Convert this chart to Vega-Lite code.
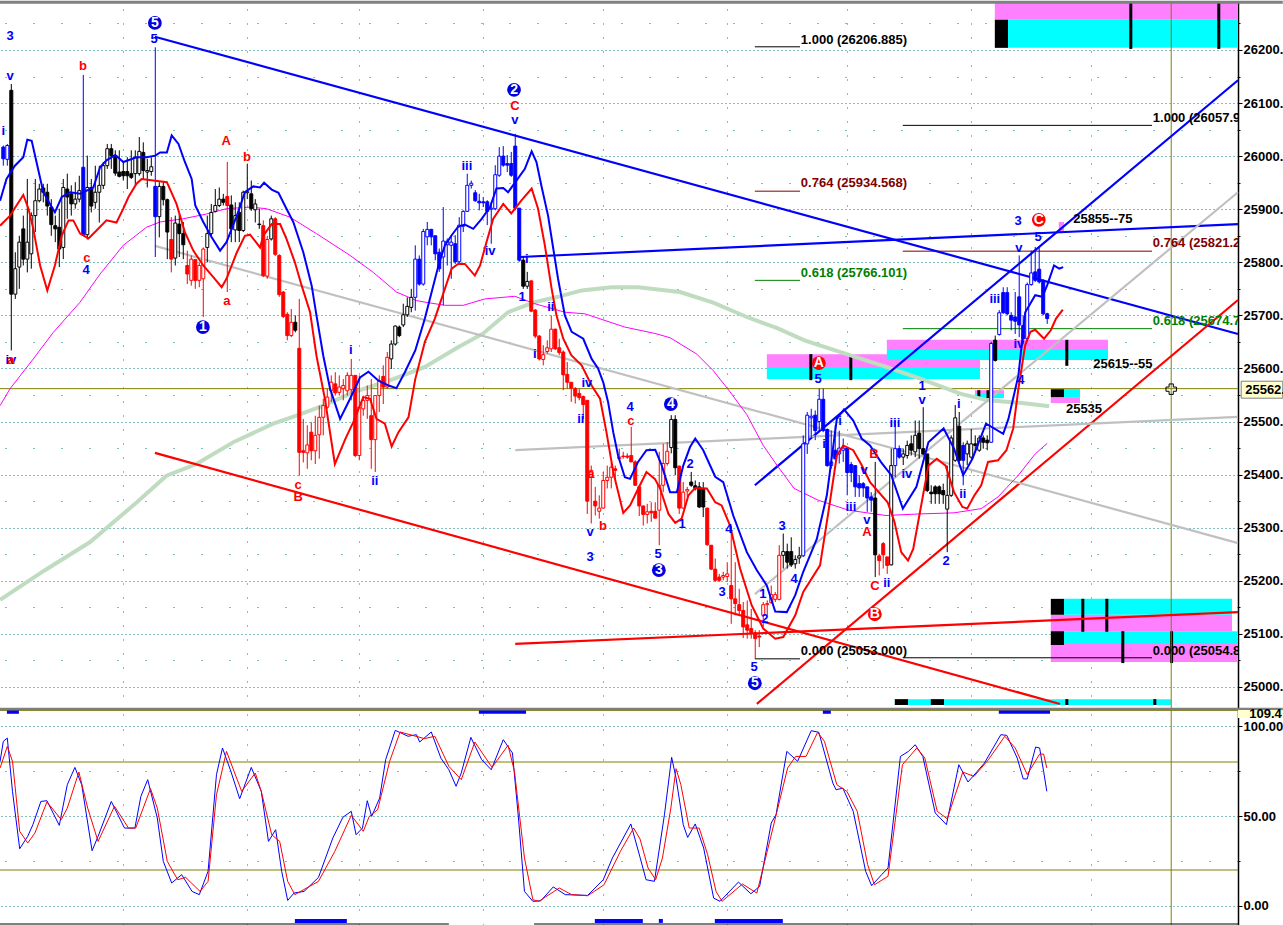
{
  "$schema": "https://vega.github.io/schema/vega-lite/v6.json",
  "background": "white",
  "padding": {"left": -4, "right": 0, "top": 0, "bottom": 0},
  "spacing": 0,
  "bounds": "flush",
  "config": {"view": {"stroke": null}, "font": "Liberation Sans"},
  "datasets": {
    "candles": [
      {"t":0,"o":26017,"h":26020,"l":25982,"c":25995,"g":"blue"},{"t":1,"o":25994,"h":26023,"l":25982,"c":26020,"g":"blue"},{"t":2,"o":26124,"h":26136,"l":25634,"c":25740,"g":"black"},{"t":3,"o":25740,"h":25819,"l":25731,"c":25788,"g":"black"},{"t":4,"o":25791,"h":25850,"l":25750,"c":25838,"g":"black"},{"t":5,"o":25863,"h":25888,"l":25794,"c":25806,"g":"black"},{"t":6,"o":25806,"h":25957,"l":25781,"c":25838,"g":"black"},{"t":7,"o":25816,"h":25894,"l":25788,"c":25888,"g":"black"},{"t":8,"o":25888,"h":25957,"l":25857,"c":25916,"g":"black"},{"t":9,"o":25916,"h":25948,"l":25913,"c":25938,"g":"black"},
      {"t":10,"o":25940,"h":25948,"l":25913,"c":25932,"g":"black"},{"t":11,"o":25932,"h":25948,"l":25888,"c":25906,"g":"black"},{"t":12,"o":25904,"h":25919,"l":25850,"c":25871,"g":"black"},{"t":13,"o":25869,"h":25888,"l":25838,"c":25863,"g":"black"},{"t":14,"o":25866,"h":25901,"l":25791,"c":25825,"g":"black"},{"t":15,"o":25828,"h":25957,"l":25806,"c":25941,"g":"black"},{"t":16,"o":25938,"h":25967,"l":25882,"c":25923,"g":"black"},{"t":17,"o":25929,"h":25945,"l":25888,"c":25910,"g":"black"},{"t":18,"o":25910,"h":25951,"l":25901,"c":25919,"g":"black"},{"t":19,"o":25919,"h":25963,"l":25913,"c":25935,"g":"black"},
      {"t":20,"o":25979,"h":26153,"l":25850,"c":25852,"g":"blue"},{"t":21,"o":25852,"h":26001,"l":25843,"c":25941,"g":"black"},{"t":22,"o":25941,"h":25957,"l":25894,"c":25906,"g":"black"},{"t":23,"o":25913,"h":25982,"l":25901,"c":25932,"g":"black"},{"t":24,"o":25932,"h":25982,"l":25875,"c":25945,"g":"black"},{"t":25,"o":25945,"h":25989,"l":25938,"c":25982,"g":"black"},{"t":26,"o":25982,"h":26023,"l":25976,"c":26014,"g":"black"},{"t":27,"o":26014,"h":26023,"l":25976,"c":26001,"g":"black"},{"t":28,"o":26001,"h":26011,"l":25963,"c":25968,"g":"black"},{"t":29,"o":25970,"h":26011,"l":25960,"c":25962,"g":"black"},
      {"t":30,"o":25971,"h":25989,"l":25954,"c":25963,"g":"black"},{"t":31,"o":25971,"h":25998,"l":25938,"c":25963,"g":"black"},{"t":32,"o":25967,"h":26011,"l":25957,"c":25960,"g":"black"},{"t":33,"o":25967,"h":26011,"l":25945,"c":25998,"g":"black"},{"t":34,"o":25967,"h":26036,"l":25963,"c":26009,"g":"black"},{"t":35,"o":26007,"h":26026,"l":25957,"c":25973,"g":"black"},{"t":36,"o":25970,"h":25995,"l":25941,"c":25973,"g":"black"},{"t":37,"o":25971,"h":25998,"l":25963,"c":25980,"g":"black"},{"t":38,"o":25943,"h":26205,"l":25810,"c":25886,"g":"blue"},{"t":39,"o":25886,"h":25951,"l":25847,"c":25943,"g":"black"},
      {"t":40,"o":25943,"h":25951,"l":25907,"c":25918,"g":"black"},{"t":41,"o":25918,"h":25920,"l":25806,"c":25857,"g":"black"},{"t":42,"o":25843,"h":25885,"l":25781,"c":25806,"g":"red"},{"t":43,"o":25808,"h":25888,"l":25794,"c":25874,"g":"black"},{"t":44,"o":25872,"h":25891,"l":25810,"c":25854,"g":"black"},{"t":45,"o":25854,"h":25876,"l":25806,"c":25833,"g":"black"},{"t":46,"o":25794,"h":25822,"l":25759,"c":25778,"g":"red"},{"t":47,"o":25766,"h":25813,"l":25756,"c":25806,"g":"red"},{"t":48,"o":25805,"h":25806,"l":25750,"c":25766,"g":"red"},{"t":49,"o":25766,"h":25800,"l":25753,"c":25794,"g":"red"},
      {"t":50,"o":25769,"h":25828,"l":25697,"c":25825,"g":"red"},{"t":51,"o":25828,"h":25888,"l":25800,"c":25854,"g":"black"},{"t":52,"o":25854,"h":25910,"l":25848,"c":25894,"g":"black"},{"t":53,"o":25896,"h":25938,"l":25894,"c":25907,"g":"black"},{"t":54,"o":25907,"h":25941,"l":25904,"c":25919,"g":"black"},{"t":55,"o":25919,"h":25929,"l":25907,"c":25913,"g":"black"},{"t":56,"o":25924,"h":25989,"l":25744,"c":25907,"g":"red"},{"t":57,"o":25908,"h":25926,"l":25838,"c":25863,"g":"black"},{"t":58,"o":25861,"h":25913,"l":25838,"c":25888,"g":"black"},{"t":59,"o":25894,"h":25913,"l":25838,"c":25860,"g":"black"},
      {"t":60,"o":25860,"h":25935,"l":25857,"c":25932,"g":"black"},{"t":61,"o":25931,"h":25985,"l":25919,"c":25933,"g":"black"},{"t":62,"o":25929,"h":25954,"l":25897,"c":25901,"g":"black"},{"t":63,"o":25899,"h":25919,"l":25875,"c":25910,"g":"black"},{"t":64,"o":25872,"h":25901,"l":25863,"c":25871,"g":"black"},{"t":65,"o":25869,"h":25879,"l":25772,"c":25775,"g":"red"},{"t":66,"o":25774,"h":25850,"l":25769,"c":25843,"g":"red"},{"t":67,"o":25844,"h":25888,"l":25841,"c":25882,"g":"black"},{"t":68,"o":25882,"h":25885,"l":25812,"c":25815,"g":"red"},{"t":69,"o":25813,"h":25815,"l":25735,"c":25739,"g":"red"},
      {"t":70,"o":25744,"h":25746,"l":25695,"c":25698,"g":"red"},{"t":71,"o":25702,"h":25706,"l":25653,"c":25662,"g":"red"},{"t":72,"o":25662,"h":25712,"l":25659,"c":25687,"g":"red"},{"t":73,"o":25687,"h":25700,"l":25668,"c":25672,"g":"black"},{"t":74,"o":25638,"h":25731,"l":25398,"c":25442,"g":"red"},{"t":75,"o":25445,"h":25505,"l":25423,"c":25442,"g":"red"},{"t":76,"o":25441,"h":25493,"l":25411,"c":25456,"g":"red"},{"t":77,"o":25480,"h":25499,"l":25427,"c":25445,"g":"red"},{"t":78,"o":25445,"h":25511,"l":25420,"c":25474,"g":"red"},{"t":79,"o":25475,"h":25530,"l":25430,"c":25508,"g":"red"},
      {"t":80,"o":25508,"h":25543,"l":25474,"c":25530,"g":"red"},{"t":81,"o":25527,"h":25562,"l":25524,"c":25546,"g":"red"},{"t":82,"o":25558,"h":25587,"l":25537,"c":25574,"g":"red"},{"t":83,"o":25571,"h":25593,"l":25549,"c":25554,"g":"red"},{"t":84,"o":25555,"h":25587,"l":25549,"c":25565,"g":"red"},{"t":85,"o":25562,"h":25580,"l":25540,"c":25568,"g":"red"},{"t":86,"o":25558,"h":25593,"l":25549,"c":25587,"g":"red"},{"t":87,"o":25560,"h":25618,"l":25540,"c":25587,"g":"red"},{"t":88,"o":25587,"h":25587,"l":25433,"c":25436,"g":"red"},{"t":89,"o":25436,"h":25587,"l":25427,"c":25527,"g":"red"},
      {"t":90,"o":25524,"h":25549,"l":25511,"c":25540,"g":"red"},{"t":91,"o":25540,"h":25568,"l":25505,"c":25549,"g":"red"},{"t":92,"o":25511,"h":25580,"l":25411,"c":25466,"g":"red"},{"t":93,"o":25466,"h":25549,"l":25405,"c":25549,"g":"red"},{"t":94,"o":25549,"h":25587,"l":25518,"c":25577,"g":"red"},{"t":95,"o":25585,"h":25606,"l":25533,"c":25565,"g":"red"},{"t":96,"o":25565,"h":25631,"l":25562,"c":25621,"g":"red"},{"t":97,"o":25618,"h":25653,"l":25599,"c":25646,"g":"black"},{"t":98,"o":25646,"h":25681,"l":25643,"c":25680,"g":"black"},{"t":99,"o":25678,"h":25681,"l":25659,"c":25662,"g":"black"},
      {"t":100,"o":25682,"h":25722,"l":25678,"c":25701,"g":"black"},{"t":101,"o":25701,"h":25734,"l":25697,"c":25717,"g":"black"},{"t":102,"o":25715,"h":25750,"l":25706,"c":25734,"g":"black"},{"t":103,"o":25734,"h":25832,"l":25709,"c":25806,"g":"blue"},{"t":104,"o":25806,"h":25813,"l":25756,"c":25759,"g":"blue"},{"t":105,"o":25759,"h":25863,"l":25756,"c":25858,"g":"blue"},{"t":106,"o":25848,"h":25876,"l":25832,"c":25862,"g":"blue"},{"t":107,"o":25862,"h":25863,"l":25832,"c":25848,"g":"blue"},{"t":108,"o":25850,"h":25850,"l":25804,"c":25816,"g":"blue"},{"t":109,"o":25819,"h":25826,"l":25782,"c":25788,"g":"blue"},
      {"t":110,"o":25810,"h":25904,"l":25719,"c":25840,"g":"blue"},{"t":111,"o":25833,"h":25845,"l":25794,"c":25840,"g":"blue"},{"t":112,"o":25832,"h":25851,"l":25769,"c":25838,"g":"blue"},{"t":113,"o":25835,"h":25851,"l":25797,"c":25801,"g":"blue"},{"t":114,"o":25801,"h":25885,"l":25797,"c":25870,"g":"blue"},{"t":115,"o":25868,"h":25898,"l":25857,"c":25896,"g":"blue"},{"t":116,"o":25896,"h":25967,"l":25895,"c":25945,"g":"blue"},{"t":117,"o":25945,"h":25954,"l":25939,"c":25949,"g":"blue"},{"t":118,"o":25931,"h":25936,"l":25914,"c":25916,"g":"blue"},{"t":119,"o":25915,"h":25929,"l":25898,"c":25912,"g":"blue"},
      {"t":120,"o":25914,"h":25923,"l":25904,"c":25912,"g":"blue"},{"t":121,"o":25914,"h":25917,"l":25870,"c":25896,"g":"blue"},{"t":122,"o":25900,"h":25914,"l":25835,"c":25902,"g":"blue"},{"t":123,"o":25901,"h":25983,"l":25898,"c":25965,"g":"blue"},{"t":124,"o":25964,"h":26017,"l":25961,"c":26000,"g":"blue"},{"t":125,"o":26000,"h":26019,"l":25980,"c":25983,"g":"blue"},{"t":126,"o":25986,"h":26002,"l":25970,"c":25983,"g":"blue"},{"t":127,"o":25986,"h":26008,"l":25961,"c":25964,"g":"blue"},{"t":128,"o":26019,"h":26042,"l":25898,"c":25902,"g":"blue"},{"t":129,"o":25902,"h":25902,"l":25801,"c":25804,"g":"blue"},
      {"t":130,"o":25804,"h":25810,"l":25750,"c":25755,"g":"black"},{"t":131,"o":25755,"h":25782,"l":25750,"c":25764,"g":"black"},{"t":132,"o":25765,"h":25766,"l":25706,"c":25708,"g":"red"},{"t":133,"o":25710,"h":25712,"l":25657,"c":25661,"g":"red"},{"t":134,"o":25661,"h":25663,"l":25615,"c":25618,"g":"red"},{"t":135,"o":25617,"h":25644,"l":25606,"c":25626,"g":"red"},{"t":136,"o":25632,"h":25653,"l":25628,"c":25639,"g":"red"},{"t":137,"o":25637,"h":25700,"l":25631,"c":25674,"g":"red"},{"t":138,"o":25674,"h":25675,"l":25635,"c":25637,"g":"red"},{"t":139,"o":25639,"h":25656,"l":25625,"c":25630,"g":"red"},
      {"t":140,"o":25631,"h":25634,"l":25559,"c":25588,"g":"red"},{"t":141,"o":25589,"h":25612,"l":25562,"c":25574,"g":"red"},{"t":142,"o":25574,"h":25574,"l":25537,"c":25563,"g":"red"},{"t":143,"o":25562,"h":25565,"l":25534,"c":25548,"g":"red"},{"t":144,"o":25553,"h":25562,"l":25540,"c":25545,"g":"red"},{"t":145,"o":25547,"h":25549,"l":25505,"c":25532,"g":"red"},{"t":146,"o":25540,"h":25540,"l":25326,"c":25350,"g":"red"},{"t":147,"o":25395,"h":25417,"l":25308,"c":25408,"g":"red"},{"t":148,"o":25350,"h":25377,"l":25323,"c":25341,"g":"red"},{"t":149,"o":25331,"h":25361,"l":25317,"c":25337,"g":"red"},
      {"t":150,"o":25337,"h":25405,"l":25336,"c":25389,"g":"red"},{"t":151,"o":25389,"h":25417,"l":25374,"c":25395,"g":"red"},{"t":152,"o":25395,"h":25421,"l":25374,"c":25414,"g":"red"},{"t":153,"o":25411,"h":25417,"l":25392,"c":25408,"g":"red"},{"t":154,"o":25430,"h":25449,"l":25427,"c":25433,"g":"red"},{"t":155,"o":25435,"h":25443,"l":25430,"c":25434,"g":"red"},{"t":156,"o":25435,"h":25440,"l":25430,"c":25433,"g":"red"},{"t":157,"o":25436,"h":25490,"l":25424,"c":25424,"g":"red"},{"t":158,"o":25424,"h":25427,"l":25379,"c":25380,"g":"red"},{"t":159,"o":25377,"h":25380,"l":25322,"c":25341,"g":"red"},
      {"t":160,"o":25341,"h":25341,"l":25304,"c":25325,"g":"red"},{"t":161,"o":25325,"h":25345,"l":25308,"c":25330,"g":"red"},{"t":162,"o":25331,"h":25348,"l":25311,"c":25328,"g":"red"},{"t":163,"o":25331,"h":25348,"l":25318,"c":25318,"g":"red"},{"t":164,"o":25333,"h":25443,"l":25267,"c":25380,"g":"red"},{"t":165,"o":25380,"h":25458,"l":25367,"c":25421,"g":"red"},{"t":166,"o":25421,"h":25461,"l":25417,"c":25444,"g":"red"},{"t":167,"o":25451,"h":25512,"l":25440,"c":25504,"g":"black"},{"t":168,"o":25504,"h":25512,"l":25399,"c":25413,"g":"black"},{"t":169,"o":25416,"h":25417,"l":25326,"c":25337,"g":"red"},
      {"t":170,"o":25337,"h":25386,"l":25336,"c":25367,"g":"red"},{"t":171,"o":25369,"h":25377,"l":25358,"c":25372,"g":"red"},{"t":172,"o":25386,"h":25405,"l":25377,"c":25380,"g":"black"},{"t":173,"o":25379,"h":25389,"l":25370,"c":25374,"g":"black"},{"t":174,"o":25377,"h":25386,"l":25337,"c":25339,"g":"black"},{"t":175,"o":25374,"h":25386,"l":25320,"c":25339,"g":"black"},{"t":176,"o":25337,"h":25337,"l":25266,"c":25268,"g":"red"},{"t":177,"o":25267,"h":25267,"l":25220,"c":25222,"g":"red"},{"t":178,"o":25222,"h":25242,"l":25198,"c":25201,"g":"red"},{"t":179,"o":25207,"h":25213,"l":25198,"c":25201,"g":"red"},
      {"t":180,"o":25207,"h":25217,"l":25201,"c":25210,"g":"red"},{"t":181,"o":25208,"h":25235,"l":25198,"c":25213,"g":"red"},{"t":182,"o":25191,"h":25304,"l":25119,"c":25166,"g":"red"},{"t":183,"o":25166,"h":25235,"l":25135,"c":25157,"g":"red"},{"t":184,"o":25155,"h":25185,"l":25135,"c":25144,"g":"red"},{"t":185,"o":25144,"h":25160,"l":25092,"c":25113,"g":"red"},{"t":186,"o":25117,"h":25163,"l":25091,"c":25107,"g":"red"},{"t":187,"o":25110,"h":25147,"l":25091,"c":25102,"g":"red"},{"t":188,"o":25102,"h":25107,"l":25053,"c":25091,"g":"red"},{"t":189,"o":25096,"h":25107,"l":25075,"c":25094,"g":"red"},
      {"t":190,"o":25135,"h":25160,"l":25113,"c":25155,"g":"red"},{"t":191,"o":25155,"h":25163,"l":25135,"c":25157,"g":"red"},{"t":192,"o":25159,"h":25191,"l":25157,"c":25174,"g":"red"},{"t":193,"o":25165,"h":25179,"l":25160,"c":25174,"g":"red"},{"t":194,"o":25165,"h":25267,"l":25163,"c":25248,"g":"red"},{"t":195,"o":25248,"h":25289,"l":25223,"c":25255,"g":"black"},{"t":196,"o":25255,"h":25270,"l":25223,"c":25235,"g":"black"},{"t":197,"o":25255,"h":25282,"l":25226,"c":25230,"g":"black"},{"t":198,"o":25232,"h":25248,"l":25223,"c":25240,"g":"black"},{"t":199,"o":25243,"h":25264,"l":25232,"c":25247,"g":"black"},
      {"t":200,"o":25247,"h":25474,"l":25245,"c":25458,"g":"blue"},{"t":201,"o":25458,"h":25518,"l":25439,"c":25512,"g":"blue"},{"t":202,"o":25507,"h":25524,"l":25468,"c":25510,"g":"blue"},{"t":203,"o":25512,"h":25521,"l":25465,"c":25483,"g":"blue"},{"t":204,"o":25500,"h":25562,"l":25483,"c":25542,"g":"blue"},{"t":205,"o":25542,"h":25562,"l":25480,"c":25483,"g":"blue"},{"t":206,"o":25485,"h":25487,"l":25415,"c":25417,"g":"blue"},{"t":207,"o":25417,"h":25483,"l":25411,"c":25424,"g":"blue"},{"t":208,"o":25446,"h":25493,"l":25427,"c":25430,"g":"blue"},{"t":209,"o":25439,"h":25483,"l":25421,"c":25450,"g":"blue"},
      {"t":210,"o":25446,"h":25468,"l":25424,"c":25450,"g":"blue"},{"t":211,"o":25450,"h":25452,"l":25361,"c":25404,"g":"blue"},{"t":212,"o":25419,"h":25424,"l":25386,"c":25404,"g":"blue"},{"t":213,"o":25417,"h":25417,"l":25358,"c":25377,"g":"blue"},{"t":214,"o":25383,"h":25399,"l":25358,"c":25375,"g":"blue"},{"t":215,"o":25383,"h":25386,"l":25358,"c":25375,"g":"blue"},{"t":216,"o":25377,"h":25377,"l":25330,"c":25356,"g":"blue"},{"t":217,"o":25358,"h":25367,"l":25330,"c":25352,"g":"blue"},{"t":218,"o":25356,"h":25424,"l":25207,"c":25249,"g":"black"},{"t":219,"o":25247,"h":25251,"l":25210,"c":25238,"g":"red"},
      {"t":220,"o":25270,"h":25273,"l":25223,"c":25249,"g":"red"},{"t":221,"o":25245,"h":25245,"l":25213,"c":25229,"g":"red"},{"t":222,"o":25230,"h":25449,"l":25229,"c":25417,"g":"black"},{"t":223,"o":25417,"h":25502,"l":25395,"c":25449,"g":"blue"},{"t":224,"o":25449,"h":25455,"l":25430,"c":25433,"g":"blue"},{"t":225,"o":25433,"h":25449,"l":25418,"c":25439,"g":"black"},{"t":226,"o":25436,"h":25464,"l":25430,"c":25455,"g":"black"},{"t":227,"o":25458,"h":25474,"l":25436,"c":25446,"g":"black"},{"t":228,"o":25443,"h":25502,"l":25433,"c":25474,"g":"black"},{"t":229,"o":25478,"h":25502,"l":25430,"c":25449,"g":"black"},
      {"t":230,"o":25449,"h":25527,"l":25436,"c":25439,"g":"black"},{"t":231,"o":25439,"h":25439,"l":25367,"c":25370,"g":"black"},{"t":232,"o":25367,"h":25380,"l":25345,"c":25364,"g":"black"},{"t":233,"o":25377,"h":25380,"l":25345,"c":25364,"g":"black"},{"t":234,"o":25377,"h":25380,"l":25345,"c":25364,"g":"black"},{"t":235,"o":25370,"h":25383,"l":25345,"c":25362,"g":"black"},{"t":236,"o":25335,"h":25417,"l":25254,"c":25361,"g":"black"},{"t":237,"o":25361,"h":25474,"l":25358,"c":25469,"g":"black"},{"t":238,"o":25427,"h":25531,"l":25424,"c":25507,"g":"black"},{"t":239,"o":25491,"h":25518,"l":25421,"c":25427,"g":"black"},
      {"t":240,"o":25455,"h":25461,"l":25380,"c":25427,"g":"blue"},{"t":241,"o":25439,"h":25464,"l":25418,"c":25458,"g":"black"},{"t":242,"o":25433,"h":25486,"l":25430,"c":25458,"g":"black"},{"t":243,"o":25458,"h":25474,"l":25443,"c":25455,"g":"black"},{"t":244,"o":25446,"h":25474,"l":25443,"c":25469,"g":"black"},{"t":245,"o":25469,"h":25474,"l":25449,"c":25461,"g":"black"},{"t":246,"o":25465,"h":25474,"l":25446,"c":25460,"g":"black"},{"t":247,"o":25461,"h":25650,"l":25460,"c":25647,"g":"blue"},{"t":248,"o":25653,"h":25662,"l":25613,"c":25615,"g":"black"},{"t":249,"o":25664,"h":25710,"l":25662,"c":25705,"g":"blue"},
      {"t":250,"o":25743,"h":25753,"l":25703,"c":25705,"g":"blue"},{"t":251,"o":25743,"h":25753,"l":25700,"c":25703,"g":"blue"},{"t":252,"o":25700,"h":25706,"l":25672,"c":25691,"g":"blue"},{"t":253,"o":25697,"h":25744,"l":25665,"c":25689,"g":"blue"},{"t":254,"o":25735,"h":25813,"l":25659,"c":25682,"g":"blue"},{"t":255,"o":25681,"h":25700,"l":25647,"c":25656,"g":"blue"},{"t":256,"o":25656,"h":25762,"l":25653,"c":25758,"g":"blue"},{"t":257,"o":25758,"h":25822,"l":25756,"c":25780,"g":"blue"},{"t":258,"o":25782,"h":25829,"l":25763,"c":25766,"g":"blue"},{"t":259,"o":25787,"h":25829,"l":25760,"c":25763,"g":"blue"},
      {"t":260,"o":25766,"h":25768,"l":25700,"c":25703,"g":"blue"},{"t":261,"o":25703,"h":25705,"l":25684,"c":25694,"g":"blue"}
    ],
    "maBlue": [
      {"t":-0.8,"p":25916},{"t":0.8,"p":25957},{"t":2.9,"p":25982},{"t":5,"p":25998},{"t":6,"p":26031},{"t":7.1,"p":26029},{"t":8.3,"p":25989},{"t":10,"p":25932},{"t":12.9,"p":25894},{"t":14.6,"p":25923},{"t":16.7,"p":25932},{"t":19.2,"p":25929},{"t":22.5,"p":25941},{"t":24.2,"p":25979},{"t":25.8,"p":25992},{"t":28,"p":26002},{"t":30,"p":25989},{"t":33.3,"p":25998},{"t":35.8,"p":25998},{"t":38,"p":26001},{"t":39.2,"p":26007},{"t":40.9,"p":26007},{"t":42.1,"p":26039},{"t":43.8,"p":26023},{"t":45.4,"p":25989},{"t":47.1,"p":25957},{"t":48,"p":25907},{"t":50,"p":25876},{"t":52.1,"p":25847},{"t":54.2,"p":25822},{"t":55.8,"p":25838},{"t":58.4,"p":25888},{"t":60.4,"p":25932},{"t":62.5,"p":25943},{"t":64.2,"p":25941},{"t":65.2,"p":25950},{"t":67.1,"p":25937},{"t":68.8,"p":25931},{"t":70.8,"p":25901},{"t":72.5,"p":25876},{"t":75,"p":25819},{"t":77.1,"p":25756},{"t":78.3,"p":25700},{"t":80,"p":25624},{"t":81.7,"p":25562},{"t":84.2,"p":25505},{"t":86.7,"p":25543},{"t":89.2,"p":25583},{"t":91.3,"p":25594},{"t":93.8,"p":25577},{"t":96.3,"p":25568},{"t":98.3,"p":25563},{"t":100.4,"p":25593},{"t":103,"p":25634},{"t":105.4,"p":25694},{"t":107.1,"p":25744},{"t":108.8,"p":25794},{"t":110.4,"p":25832},{"t":112.1,"p":25851},{"t":113.7,"p":25867},{"t":115.4,"p":25871},{"t":117.5,"p":25863},{"t":119.6,"p":25882},{"t":121.7,"p":25904},{"t":123.3,"p":25939},{"t":125,"p":25940},{"t":126.2,"p":25932},{"t":128.3,"p":25954},{"t":130.4,"p":25976},{"t":132.1,"p":26009},{"t":133.3,"p":25989},{"t":134.6,"p":25942},{"t":136.2,"p":25888},{"t":137.5,"p":25826},{"t":138.7,"p":25769},{"t":140.4,"p":25700},{"t":142.1,"p":25669},{"t":145,"p":25656},{"t":147.1,"p":25618},{"t":148.7,"p":25600},{"t":150,"p":25574},{"t":151.2,"p":25537},{"t":152.5,"p":25480},{"t":153.7,"p":25436},{"t":155.4,"p":25395},{"t":156.7,"p":25392},{"t":158.7,"p":25424},{"t":160.8,"p":25446},{"t":163,"p":25447},{"t":164.6,"p":25418},{"t":166.7,"p":25367},{"t":168.4,"p":25367},{"t":170,"p":25417},{"t":171.7,"p":25452},{"t":173,"p":25468},{"t":175,"p":25446},{"t":178,"p":25396},{"t":180,"p":25386},{"t":182.5,"p":25323},{"t":185.9,"p":25254},{"t":188.4,"p":25220},{"t":190.9,"p":25191},{"t":193,"p":25142},{"t":195.9,"p":25141},{"t":198,"p":25173},{"t":200,"p":25217},{"t":201.7,"p":25248},{"t":203.4,"p":25279},{"t":205.9,"p":25361},{"t":208.4,"p":25505},{"t":210.2,"p":25523},{"t":212.5,"p":25502},{"t":214.6,"p":25468},{"t":216.7,"p":25455},{"t":219.4,"p":25424},{"t":222,"p":25399},{"t":224.9,"p":25336},{"t":228.3,"p":25377},{"t":231.3,"p":25461},{"t":235.1,"p":25487},{"t":237.7,"p":25449},{"t":240,"p":25399},{"t":242.3,"p":25430},{"t":245.7,"p":25496},{"t":250,"p":25477},{"t":251.3,"p":25505},{"t":253.8,"p":25587},{"t":255.5,"p":25706},{"t":258,"p":25738},{"t":259.8,"p":25735},{"t":261,"p":25757},{"t":262.7,"p":25794},{"t":264,"p":25788},{"t":265,"p":25791}
    ],
    "maRed": [
      {"t":-0.8,"p":25869},{"t":1.7,"p":25888},{"t":3.3,"p":25907},{"t":5,"p":25927},{"t":6.3,"p":25901},{"t":7.5,"p":25863},{"t":9.2,"p":25794},{"t":11,"p":25747},{"t":12.9,"p":25794},{"t":14.6,"p":25850},{"t":16.3,"p":25879},{"t":17.5,"p":25879},{"t":19.2,"p":25854},{"t":21.3,"p":25845},{"t":23.3,"p":25860},{"t":25.8,"p":25879},{"t":28.3,"p":25875},{"t":30,"p":25901},{"t":31.3,"p":25923},{"t":33.3,"p":25948},{"t":34.6,"p":25957},{"t":37.5,"p":25954},{"t":40.9,"p":25951},{"t":43.3,"p":25910},{"t":45.4,"p":25857},{"t":47.5,"p":25822},{"t":50,"p":25794},{"t":52.5,"p":25772},{"t":54.6,"p":25753},{"t":55.8,"p":25769},{"t":58.4,"p":25819},{"t":60.4,"p":25850},{"t":61.7,"p":25852},{"t":64.2,"p":25828},{"t":65,"p":25850},{"t":67.1,"p":25872},{"t":69.2,"p":25872},{"t":70.8,"p":25844},{"t":72.9,"p":25800},{"t":74.6,"p":25756},{"t":76.7,"p":25706},{"t":78.3,"p":25624},{"t":80.4,"p":25543},{"t":82.9,"p":25420},{"t":85.5,"p":25467},{"t":87.5,"p":25499},{"t":90,"p":25546},{"t":91.7,"p":25543},{"t":93.3,"p":25505},{"t":95.4,"p":25496},{"t":97.1,"p":25453},{"t":98.8,"p":25480},{"t":101.3,"p":25508},{"t":103,"p":25580},{"t":105.4,"p":25650},{"t":107.9,"p":25694},{"t":110.4,"p":25750},{"t":112.1,"p":25788},{"t":113.7,"p":25797},{"t":115.4,"p":25797},{"t":117.9,"p":25775},{"t":119.2,"p":25794},{"t":120.8,"p":25838},{"t":122.5,"p":25882},{"t":125,"p":25910},{"t":127,"p":25892},{"t":129.6,"p":25917},{"t":132.1,"p":25939},{"t":133.7,"p":25901},{"t":135.4,"p":25832},{"t":137.1,"p":25750},{"t":138.3,"p":25700},{"t":140,"p":25656},{"t":142,"p":25625},{"t":144.6,"p":25606},{"t":147.1,"p":25568},{"t":149.2,"p":25543},{"t":150.8,"p":25480},{"t":152.5,"p":25405},{"t":155,"p":25328},{"t":156.7,"p":25342},{"t":158.7,"p":25373},{"t":160.8,"p":25405},{"t":162.9,"p":25392},{"t":164.2,"p":25374},{"t":166.3,"p":25326},{"t":168,"p":25309},{"t":169.6,"p":25317},{"t":171.3,"p":25361},{"t":173,"p":25375},{"t":175.9,"p":25374},{"t":178,"p":25348},{"t":179.6,"p":25342},{"t":181.7,"p":25304},{"t":184.2,"p":25223},{"t":187.1,"p":25154},{"t":190,"p":25110},{"t":193,"p":25091},{"t":195,"p":25094},{"t":198,"p":25135},{"t":200,"p":25179},{"t":204.2,"p":25229},{"t":206.3,"p":25330},{"t":208.4,"p":25436},{"t":210,"p":25455},{"t":212.5,"p":25446},{"t":214.6,"p":25418},{"t":216.7,"p":25386},{"t":221.1,"p":25348},{"t":222.8,"p":25311},{"t":224.5,"p":25254},{"t":226.2,"p":25238},{"t":227.5,"p":25260},{"t":229.2,"p":25330},{"t":231.3,"p":25417},{"t":233.4,"p":25430},{"t":235.6,"p":25417},{"t":237.7,"p":25367},{"t":239.8,"p":25339},{"t":241,"p":25336},{"t":242.8,"p":25361},{"t":244.5,"p":25380},{"t":246.2,"p":25424},{"t":248.7,"p":25427},{"t":250.8,"p":25446},{"t":252.5,"p":25487},{"t":253.8,"p":25562},{"t":255.5,"p":25644},{"t":256.8,"p":25669},{"t":258,"p":25673},{"t":260.2,"p":25656},{"t":261.9,"p":25672},{"t":263.2,"p":25694},{"t":264.9,"p":25711}
    ],
    "maMagenta": [
      {"t":-0.8,"p":25530},{"t":1.7,"p":25562},{"t":7.5,"p":25618},{"t":12.5,"p":25668},{"t":19.2,"p":25725},{"t":24.2,"p":25778},{"t":30,"p":25832},{"t":35.8,"p":25866},{"t":39.2,"p":25876},{"t":45,"p":25882},{"t":50.8,"p":25891},{"t":55.8,"p":25901},{"t":61.7,"p":25904},{"t":65.8,"p":25901},{"t":71.7,"p":25885},{"t":78.3,"p":25854},{"t":86.7,"p":25813},{"t":92.5,"p":25781},{"t":98.3,"p":25744},{"t":103.3,"p":25728},{"t":105.4,"p":25725},{"t":110.4,"p":25719},{"t":115,"p":25719},{"t":120.4,"p":25731},{"t":127.9,"p":25736},{"t":132.9,"p":25722},{"t":140.4,"p":25706},{"t":145.4,"p":25703},{"t":155.4,"p":25678},{"t":162.9,"p":25666},{"t":166.7,"p":25658},{"t":173.4,"p":25627},{"t":177.5,"p":25596},{"t":181.7,"p":25556},{"t":185.9,"p":25513},{"t":190,"p":25455},{"t":193.5,"p":25417},{"t":197.7,"p":25374},{"t":203.7,"p":25352},{"t":211.3,"p":25333},{"t":220.7,"p":25323},{"t":229.2,"p":25326},{"t":237.7,"p":25328},{"t":244.5,"p":25336},{"t":248.7,"p":25358},{"t":253.8,"p":25399},{"t":258,"p":25439},{"t":261,"p":25459}
    ],
    "maGreen": [
      {"t":-0.8,"p":25164},{"t":10.4,"p":25220},{"t":21.7,"p":25273},{"t":33.4,"p":25348},{"t":40.8,"p":25398},{"t":48.3,"p":25420},{"t":57.5,"p":25461},{"t":67.5,"p":25496},{"t":73.3,"p":25511},{"t":80,"p":25530},{"t":87.5,"p":25555},{"t":97.5,"p":25580},{"t":105.4,"p":25603},{"t":113.7,"p":25640},{"t":120,"p":25666},{"t":126.2,"p":25706},{"t":132.9,"p":25725},{"t":138.7,"p":25735},{"t":144.6,"p":25747},{"t":152,"p":25753},{"t":158.7,"p":25753},{"t":169.2,"p":25744},{"t":177.5,"p":25724},{"t":185.9,"p":25697},{"t":193.5,"p":25676},{"t":200.3,"p":25653},{"t":210.5,"p":25628},{"t":220.7,"p":25603},{"t":229.2,"p":25581},{"t":239.4,"p":25552},{"t":246.2,"p":25540},{"t":254.7,"p":25535},{"t":261.5,"p":25529}
    ],
    "trends": [
      {"t":37.9,"t2":308.7,"p":26225,"p2":25665,"g":"blue"},
      {"t":187.9,"t2":308.7,"p":25380,"p2":26143,"g":"blue"},
      {"t":129.2,"t2":308.7,"p":25810,"p2":25872,"g":"blue"},
      {"t":37.9,"t2":264.2,"p":25441,"p2":24968,"g":"red"},
      {"t":188.4,"t2":308.7,"p":24968,"p2":25729,"g":"red"},
      {"t":128,"t2":308.7,"p":25081,"p2":25141,"g":"red"},
      {"t":37.9,"t2":308.7,"p":25831,"p2":25271,"g":"silver"},
      {"t":128,"t2":308.7,"p":25446,"p2":25509,"g":"silver"},
      {"t":187.9,"t2":308.7,"p":25175,"p2":25932,"g":"silver"}
    ],
    "fibs": [
      {"t":187.9,"t2":199.2,"p":26206,"p2":26206,"g":"black"},
      {"t":187.9,"t2":199.2,"p":25934,"p2":25934,"g":"maroon"},
      {"t":187.9,"t2":199.2,"p":25766,"p2":25766,"g":"green"},
      {"t":187.9,"t2":199.2,"p":25053,"p2":25053,"g":"black"},
      {"t":224.9,"t2":287.2,"p":26058,"p2":26058,"g":"black"},
      {"t":224.9,"t2":287.2,"p":25821,"p2":25821,"g":"maroon"},
      {"t":224.9,"t2":287.2,"p":25675,"p2":25675,"g":"green"},
      {"t":224.9,"t2":287.2,"p":25055,"p2":25055,"g":"black"}
    ],
    "zones": [
      {"t":247.9,"t2":308.7,"p":26257,"p2":26290,"g":"pink"},
      {"t":251.2,"t2":308.7,"p":26204,"p2":26257,"g":"cyan"},
      {"t":247.9,"t2":251.2,"p":26204,"p2":26257,"g":"black"},
      {"t":190.9,"t2":244.2,"p":25603,"p2":25627,"g":"pink"},
      {"t":190.9,"t2":244.2,"p":25580,"p2":25603,"g":"cyan"},
      {"t":220.9,"t2":276.2,"p":25635,"p2":25654,"g":"pink"},
      {"t":220.9,"t2":276.2,"p":25616,"p2":25635,"g":"cyan"},
      {"t":242.9,"t2":250.2,"p":25552,"p2":25559,"g":"pink"},
      {"t":242.9,"t2":250.2,"p":25544,"p2":25552,"g":"cyan"},
      {"t":261.9,"t2":269.2,"p":25535,"p2":25546,"g":"pink"},
      {"t":265.2,"t2":269.2,"p":25546,"p2":25561,"g":"cyan"},
      {"t":261.9,"t2":265.2,"p":25546,"p2":25561,"g":"black"},
      {"t":261.9,"t2":307.2,"p":25105,"p2":25136,"g":"pink"},
      {"t":265.2,"t2":307.2,"p":25136,"p2":25166,"g":"cyan"},
      {"t":261.9,"t2":265.2,"p":25136,"p2":25166,"g":"black"},
      {"t":261.9,"t2":308.7,"p":25047,"p2":25081,"g":"pink"},
      {"t":265.2,"t2":308.7,"p":25081,"p2":25105,"g":"cyan"},
      {"t":261.9,"t2":265.2,"p":25079,"p2":25105,"g":"black"},
      {"t":222.9,"t2":291.9,"p":24966,"p2":24977,"g":"cyan"},
      {"t":222.9,"t2":226.2,"p":24966,"p2":24977,"g":"black"},
      {"t":231.9,"t2":235.2,"p":24966,"p2":24977,"g":"black"},
      {"t":263.9,"t2":265.2,"p":25857,"p2":25876,"g":"pink"}
    ],
    "zoneTicks": [
      {"t":281.9,"t2":281.9,"p":26202,"p2":26290},{"t":303.9,"t2":303.9,"p":26202,"p2":26290},
      {"t":201.9,"t2":201.9,"p":25578,"p2":25627},{"t":211.9,"t2":211.9,"p":25578,"p2":25627},
      {"t":247.9,"t2":247.9,"p":25616,"p2":25654},{"t":265.9,"t2":265.9,"p":25605,"p2":25654},
      {"t":243.9,"t2":243.9,"p":25544,"p2":25559},{"t":246.2,"t2":246.2,"p":25544,"p2":25559},
      {"t":269.9,"t2":269.9,"p":25104,"p2":25166},{"t":275.9,"t2":275.9,"p":25104,"p2":25166},
      {"t":279.9,"t2":279.9,"p":25045,"p2":25105},{"t":292.1,"t2":292.1,"p":25045,"p2":25105},
      {"t":265.9,"t2":265.9,"p":24966,"p2":24977},{"t":287.9,"t2":287.9,"p":24966,"p2":24977}
    ],
    "waves": [
      {"t":1.7,"p":26226,"label":"3","g":"blue"},{"t":1.7,"p":26151,"label":"v","g":"blue"},{"t":0,"p":26047,"label":"i","g":"blue"},{"t":1.9,"p":25616,"label":"iv","g":"blue"},{"t":1.9,"p":25616,"label":"a","g":"red"},
      {"t":19.9,"p":26170,"label":"b","g":"red"},{"t":20.9,"p":25808,"label":"c","g":"red"},{"t":20.7,"p":25786,"label":"4","g":"blue"},{"t":37.7,"p":26221,"label":"5","g":"blue"},{"t":55.7,"p":26029,"label":"A","g":"red"},{"t":60.9,"p":25998,"label":"b","g":"red"},{"t":55.9,"p":25727,"label":"a","g":"red"},
      {"t":73.7,"p":25380,"label":"c","g":"red"},{"t":73.7,"p":25358,"label":"B","g":"red"},{"t":86.9,"p":25635,"label":"i","g":"blue"},{"t":92.9,"p":25388,"label":"ii","g":"blue"},{"t":115.9,"p":25981,"label":"iii","g":"blue"},{"t":121.7,"p":25821,"label":"iv","g":"blue"},
      {"t":127.9,"p":26094,"label":"C","g":"red"},{"t":127.9,"p":26068,"label":"v","g":"blue"},{"t":129.7,"p":25735,"label":"1","g":"blue"},{"t":130.9,"p":25806,"label":"i","g":"blue"},{"t":136.9,"p":25716,"label":"ii","g":"blue"},{"t":132.9,"p":25627,"label":"i","g":"blue"},{"t":145.9,"p":25573,"label":"iv","g":"blue"},{"t":144.4,"p":25505,"label":"ii","g":"blue"},
      {"t":156.7,"p":25527,"label":"4","g":"blue"},{"t":156.9,"p":25501,"label":"c","g":"red"},{"t":146.9,"p":25401,"label":"a","g":"red"},{"t":146.7,"p":25292,"label":"v","g":"blue"},{"t":149.9,"p":25303,"label":"b","g":"red"},{"t":146.7,"p":25245,"label":"3","g":"blue"},{"t":163.7,"p":25251,"label":"5","g":"blue"},{"t":169.7,"p":25307,"label":"1","g":"blue"},{"t":171.7,"p":25420,"label":"2","g":"blue"},
      {"t":181.4,"p":25298,"label":"4","g":"blue"},{"t":179.7,"p":25179,"label":"3","g":"blue"},{"t":187.7,"p":25038,"label":"5","g":"blue"},{"t":189.9,"p":25175,"label":"1","g":"blue"},{"t":190.4,"p":25128,"label":"2","g":"blue"},{"t":194.7,"p":25303,"label":"3","g":"blue"},{"t":197.7,"p":25203,"label":"4","g":"blue"},{"t":203.7,"p":25580,"label":"5","g":"blue"},
      {"t":205.2,"p":25458,"label":"i","g":"blue"},{"t":209.2,"p":25501,"label":"i","g":"blue"},{"t":215.2,"p":25409,"label":"v","g":"blue"},{"t":211.9,"p":25339,"label":"iii","g":"blue"},{"t":215.9,"p":25315,"label":"v","g":"blue"},{"t":215.9,"p":25292,"label":"A","g":"red"},{"t":217.7,"p":25439,"label":"B","g":"red"},{"t":217.9,"p":25190,"label":"C","g":"red"},{"t":220.9,"p":25196,"label":"ii","g":"blue"},
      {"t":222.9,"p":25497,"label":"iii","g":"blue"},{"t":225.9,"p":25401,"label":"iv","g":"blue"},{"t":229.7,"p":25567,"label":"1","g":"blue"},{"t":229.7,"p":25541,"label":"v","g":"blue"},{"t":235.7,"p":25237,"label":"2","g":"blue"},{"t":238.9,"p":25533,"label":"i","g":"blue"},{"t":239.9,"p":25363,"label":"ii","g":"blue"},{"t":247.9,"p":25731,"label":"iii","g":"blue"},
      {"t":253.9,"p":25827,"label":"v","g":"blue"},{"t":253.9,"p":25646,"label":"iv","g":"blue"},{"t":258.7,"p":25848,"label":"5","g":"blue"},{"t":253.7,"p":25878,"label":"3","g":"blue"},{"t":254.4,"p":25578,"label":"4","g":"blue"},
      {"t":274.9,"p":25882,"label":"25855--75","g":"black"},{"t":279.9,"p":25608,"label":"25615--55","g":"black"},{"t":270.2,"p":25524,"label":"25535","g":"black"}
    ],
    "fibLabels": [
      {"t":199.4,"p":26219,"label":"1.000 (26206.885)","g":"black"},
      {"t":199.4,"p":25949,"label":"0.764 (25934.568)","g":"maroon"},
      {"t":199.4,"p":25780,"label":"0.618 (25766.101)","g":"green"},
      {"t":199.4,"p":25068,"label":"0.000 (25053.000)","g":"black"},
      {"t":287.4,"p":26072,"label":"1.000 (26057.900)","g":"black"},
      {"t":287.4,"p":25836,"label":"0.764 (25821.200)","g":"maroon"},
      {"t":287.4,"p":25689,"label":"0.618 (25674.700)","g":"green"},
      {"t":287.4,"p":25068,"label":"0.000 (25054.800)","g":"black"}
    ],
    "circles": [
      {"t":37.9,"p":26251,"label":"5","g":"navy"},{"t":49.9,"p":25678,"label":"1","g":"navy"},{"t":127.7,"p":26125,"label":"2","g":"navy"},{"t":166.9,"p":25533,"label":"4","g":"navy"},{"t":163.9,"p":25220,"label":"3","g":"navy"},{"t":187.9,"p":25007,"label":"5","g":"navy"},
      {"t":203.9,"p":25610,"label":"A","g":"red"},{"t":217.9,"p":25137,"label":"B","g":"red"},{"t":258.9,"p":25880,"label":"C","g":"red"}
    ],
    "stochBlue": [
      {"t":-0.8,"p":80.4},{"t":0,"p":91.5},{"t":1,"p":93.3},{"t":2.3,"p":63.7},{"t":4.1,"p":31.8},{"t":6.1,"p":38.7},{"t":7.4,"p":45.2},{"t":9.4,"p":58.1},{"t":10.9,"p":58.5},{"t":14,"p":44.8},{"t":16,"p":67.4},{"t":17.9,"p":77},{"t":19.6,"p":67.4},{"t":22.2,"p":30.7},{"t":23.7,"p":38.7},{"t":27,"p":58.1},{"t":30.3,"p":43.3},{"t":32.9,"p":43.3},{"t":34.4,"p":60.9},{"t":36.1,"p":70.2},{"t":38.5,"p":48.9},{"t":40,"p":24.8},{"t":42.1,"p":12.8},{"t":44.6,"p":17.4},{"t":47.2,"p":8.1},{"t":49,"p":6.3},{"t":51.2,"p":19.3},{"t":53.3,"p":73},{"t":54.8,"p":87.8},{"t":56.9,"p":74.8},{"t":59.1,"p":59.6},{"t":62,"p":77},{"t":64.5,"p":63.7},{"t":66.3,"p":35.9},{"t":68.1,"p":42.4},{"t":69.6,"p":19.3},{"t":71.1,"p":3.1},{"t":72.7,"p":7.2},{"t":75.2,"p":8.1},{"t":78.8,"p":15.9},{"t":82.4,"p":37.8},{"t":84.9,"p":49.3},{"t":87,"p":52.6},{"t":88.2,"p":39.6},{"t":89.8,"p":43.3},{"t":91,"p":58.5},{"t":92.1,"p":49.8},{"t":94.1,"p":60},{"t":95.6,"p":81.3},{"t":98,"p":97.6},{"t":101.2,"p":94.3},{"t":103.3,"p":95.2},{"t":104.1,"p":91.1},{"t":107,"p":96.7},{"t":109.4,"p":82.2},{"t":111.4,"p":75.7},{"t":113.2,"p":66.5},{"t":114.5,"p":73.9},{"t":116.9,"p":93.7},{"t":119.6,"p":81.3},{"t":122,"p":75.7},{"t":125,"p":92.4},{"t":127.3,"p":85},{"t":128.8,"p":48.9},{"t":130.3,"p":8.1},{"t":132.4,"p":2.6},{"t":134.4,"p":2.9},{"t":137.5,"p":10.6},{"t":140.5,"p":6.3},{"t":146.1,"p":5.9},{"t":150,"p":14.6},{"t":152.3,"p":26.7},{"t":156.9,"p":45.6},{"t":159.2,"p":27},{"t":160.7,"p":14.6},{"t":162.8,"p":13.7},{"t":165.3,"p":50.7},{"t":167.1,"p":82.6},{"t":168.2,"p":71.1},{"t":170,"p":45.2},{"t":171.1,"p":38.1},{"t":173,"p":45.6},{"t":175.1,"p":32.2},{"t":177.6,"p":4.4},{"t":179.2,"p":2.6},{"t":183.8,"p":13.3},{"t":186.9,"p":6.8},{"t":189.1,"p":10.9},{"t":192,"p":46.1},{"t":193.2,"p":50.7},{"t":195.9,"p":85.9},{"t":198.6,"p":80.4},{"t":202,"p":97.4},{"t":203.9,"p":96.5},{"t":207.4,"p":68.3},{"t":208.2,"p":64.6},{"t":209.9,"p":65.5},{"t":212.5,"p":52.6},{"t":215.6,"p":19.3},{"t":217.1,"p":11.3},{"t":219.6,"p":17.4},{"t":221.2,"p":21.1},{"t":224.3,"p":83.1},{"t":226.3,"p":85.9},{"t":228,"p":89.6},{"t":229.9,"p":83.1},{"t":233,"p":51.7},{"t":235.8,"p":45.2},{"t":238.9,"p":78.5},{"t":241.2,"p":68.9},{"t":245.3,"p":79.4},{"t":249.4,"p":95.2},{"t":250.9,"p":94.8},{"t":253.5,"p":82.2},{"t":255,"p":70.6},{"t":256,"p":70.6},{"t":258.1,"p":88.3},{"t":259.1,"p":87.8},{"t":260.1,"p":74.8},{"t":260.9,"p":63.7}
    ],
    "stochRed": [
      {"t":-0.8,"p":76.7},{"t":1,"p":88.7},{"t":2.3,"p":80.4},{"t":4.1,"p":41.5},{"t":6.1,"p":35},{"t":7.9,"p":40.5},{"t":10.9,"p":57.8},{"t":14.5,"p":48},{"t":16,"p":54.4},{"t":18.9,"p":74.4},{"t":21.1,"p":54.4},{"t":23.7,"p":35.9},{"t":27.8,"p":55.4},{"t":31.3,"p":43.3},{"t":33.1,"p":43.3},{"t":36.8,"p":65.2},{"t":38.5,"p":54.4},{"t":41,"p":24.8},{"t":43.6,"p":14.6},{"t":45.6,"p":15.9},{"t":49.2,"p":8.1},{"t":51.2,"p":13.7},{"t":53.3,"p":61.8},{"t":55.8,"p":85.9},{"t":59.6,"p":63.7},{"t":63,"p":73.9},{"t":64.5,"p":63.7},{"t":67.1,"p":39.6},{"t":69.1,"p":35.9},{"t":71.1,"p":13.7},{"t":72.9,"p":6.3},{"t":78.8,"p":13.7},{"t":82.9,"p":30.4},{"t":87,"p":50.4},{"t":90,"p":41.5},{"t":91.5,"p":49.8},{"t":93.6,"p":53.5},{"t":96.6,"p":80.4},{"t":99.2,"p":96.7},{"t":105.3,"p":93},{"t":107.9,"p":94.3},{"t":111.4,"p":77.6},{"t":114.5,"p":70.2},{"t":117.9,"p":91.1},{"t":122.2,"p":77},{"t":126.2,"p":89.3},{"t":127.8,"p":74.8},{"t":130.3,"p":26.7},{"t":132.4,"p":3.5},{"t":133.9,"p":2.6},{"t":139,"p":10},{"t":142.1,"p":6.3},{"t":146.1,"p":5.7},{"t":150.2,"p":11.8},{"t":154.3,"p":30.4},{"t":157.6,"p":43.3},{"t":159.2,"p":37.2},{"t":161.2,"p":21.1},{"t":163.1,"p":14.6},{"t":164.8,"p":26.7},{"t":166.9,"p":54.4},{"t":168.2,"p":76.3},{"t":169.4,"p":67.4},{"t":171.5,"p":43.3},{"t":174,"p":43.3},{"t":176.1,"p":28.5},{"t":178.2,"p":8.1},{"t":179.7,"p":2.6},{"t":184.8,"p":12.2},{"t":188.4,"p":7.2},{"t":191,"p":30.4},{"t":196.1,"p":76.7},{"t":198.1,"p":83.1},{"t":200.7,"p":83.1},{"t":203.6,"p":96.5},{"t":205.3,"p":91.5},{"t":208.4,"p":67.4},{"t":210.9,"p":63.7},{"t":213.5,"p":52.6},{"t":216.1,"p":23},{"t":217.8,"p":11.8},{"t":221.2,"p":16.5},{"t":224.8,"p":78.5},{"t":228.4,"p":87.8},{"t":230.4,"p":82.2},{"t":233.5,"p":52.6},{"t":236,"p":48.5},{"t":239.9,"p":74.4},{"t":242.7,"p":72},{"t":246.3,"p":81.3},{"t":250.4,"p":94.3},{"t":253,"p":87.8},{"t":256,"p":73},{"t":259.1,"p":84.4},{"t":260.1,"p":84.4},{"t":260.9,"p":76.7}
    ],
    "signals": [
      {"t":0.9,"t2":3.9,"p":106.8,"p2":108.6},{"t":118.9,"t2":130.7,"p":106.8,"p2":108.6},{"t":204.9,"t2":206.9,"p":106.8,"p2":108.6},{"t":248.9,"t2":261.7,"p":106.8,"p2":108.6},
      {"t":72.9,"t2":85.9,"p":-9.4,"p2":-7.2},{"t":147.9,"t2":159.9,"p":-9.4,"p2":-7.2},{"t":163.9,"t2":164.9,"p":-9.4,"p2":-7.2},{"t":177.9,"t2":194.9,"p":-9.4,"p2":-7.2}
    ]
  },
  "vconcat": [
    {
      "width": 1238,
      "height": 708,
      "encoding": {
        "x": {"field": "t", "type": "quantitative", "scale": {"domain": [-0.825, 308.7], "nice": false, "zero": false, "padding": 0}, "axis": {"orient": "top", "title": null, "grid": true, "values": [30, 61, 89, 120, 150, 181, 211, 242, 272], "gridColor": "#008080", "gridDash": [1, 13], "domain": false, "ticks": false, "labels": false, "minExtent": 0, "maxExtent": 0}},
        "y": {"field": "p", "type": "quantitative", "scale": {"domain": [24956.6, 26290.4], "nice": false, "zero": false}, "axis": {"orient": "right", "title": null, "values": [25000, 25050, 25100, 25150, 25200, 25250, 25300, 25350, 25400, 25450, 25500, 25550, 25600, 25650, 25700, 25750, 25800, 25850, 25900, 25950, 26000, 26050, 26100, 26150, 26200, 26250], "grid": true, "gridColor": "#008080", "gridDash": {"condition": {"test": "datum.value % 100 == 0", "value": [1, 3]}, "value": [1, 27]}, "domainColor": "black", "domainWidth": 1.5, "tickColor": "black", "tickSize": {"condition": {"test": "datum.value % 100 == 0", "value": 4}, "value": 2}, "labelExpr": "datum.value % 100 == 0 ? format(datum.value, 'd') + '.' : ''", "labelFontSize": 13, "labelFontWeight": "bold", "labelColor": "black", "labelPadding": 1, "labelOverlap": false, "labelFlush": false}}
      },
      "layer": [
        {
          "data": {"name": "zones"},
          "mark": {"type": "rect"},
          "encoding": {
            "x2": {"field": "t2"},
            "y2": {"field": "p2"},
            "color": {"field": "g", "type": "nominal", "scale": {"domain": ["black", "blue", "red", "maroon", "green", "silver", "pink", "cyan", "navy"], "range": ["#000000", "#0000ff", "#ff0000", "#800000", "#008000", "#c0c0c0", "#ff80ff", "#00ffff", "#0000e0"]}, "legend": null}
          }
        },
        {
          "data": {"name": "zoneTicks"},
          "mark": {"type": "rule", "strokeWidth": 3, "color": "black"},
          "encoding": {"x2": {"field": "t2"}, "y2": {"field": "p2"}}
        },
        {
          "data": {"values": [{"t": -0.825, "t2": 308.7, "p": 25562, "p2": 25562}, {"t": 292, "t2": 292, "p": 24956.6, "p2": 26290.4}]},
          "mark": {"type": "rule", "strokeWidth": 1, "color": "#808000"},
          "encoding": {"x2": {"field": "t2"}, "y2": {"field": "p2"}}
        },
        {
          "data": {"name": "fibs"},
          "mark": {"type": "rule", "strokeWidth": 1},
          "encoding": {
            "x2": {"field": "t2"},
            "y2": {"field": "p2"},
            "color": {"field": "g", "type": "nominal", "scale": {"domain": ["black", "blue", "red", "maroon", "green", "silver", "pink", "cyan", "navy"], "range": ["#000000", "#0000ff", "#ff0000", "#800000", "#008000", "#c0c0c0", "#ff80ff", "#00ffff", "#0000e0"]}, "legend": null}
          }
        },
        {
          "data": {"name": "maGreen"},
          "mark": {"type": "line", "strokeWidth": 4, "color": "#c0dcc0", "clip": true},
          "encoding": {}
        },
        {
          "data": {"name": "trends"},
          "mark": {"type": "rule", "strokeWidth": 2.2},
          "encoding": {
            "x2": {"field": "t2"},
            "y2": {"field": "p2"},
            "color": {"field": "g", "type": "nominal", "scale": {"domain": ["black", "blue", "red", "maroon", "green", "silver", "pink", "cyan", "navy"], "range": ["#000000", "#0000ff", "#ff0000", "#800000", "#008000", "#c0c0c0", "#ff80ff", "#00ffff", "#0000e0"]}, "legend": null}
          }
        },
        {
          "data": {"name": "maMagenta"},
          "mark": {"type": "line", "strokeWidth": 1, "color": "#ff00ff"},
          "encoding": {}
        },
        {
          "data": {"name": "candles"},
          "mark": {"type": "rule", "strokeWidth": 1},
          "encoding": {
            "y": {"field": "l", "type": "quantitative", "scale": {"domain": [24956.6, 26290.4], "nice": false, "zero": false}},
            "y2": {"field": "h"},
            "color": {"field": "g", "type": "nominal", "scale": {"domain": ["black", "blue", "red", "maroon", "green", "silver", "pink", "cyan", "navy"], "range": ["#000000", "#0000ff", "#ff0000", "#800000", "#008000", "#c0c0c0", "#ff80ff", "#00ffff", "#0000e0"]}, "legend": null}
          }
        },
        {
          "data": {"name": "candles"},
          "mark": {"type": "bar", "size": 3, "strokeWidth": 1},
          "encoding": {
            "y": {"field": "o", "type": "quantitative", "scale": {"domain": [24956.6, 26290.4], "nice": false, "zero": false}},
            "y2": {"field": "c"},
            "fill": {"condition": {"test": "datum.c > datum.o", "value": "white"}, "field": "g", "type": "nominal", "scale": {"domain": ["black", "blue", "red"], "range": ["#000000", "#0000ff", "#ff0000"]}, "legend": null},
            "stroke": {"field": "g", "type": "nominal", "scale": {"domain": ["black", "blue", "red"], "range": ["#000000", "#0000ff", "#ff0000"]}, "legend": null}
          }
        },
        {
          "data": {"name": "maBlue"},
          "mark": {"type": "line", "strokeWidth": 2, "color": "#0000ff"},
          "encoding": {}
        },
        {
          "data": {"name": "maRed"},
          "mark": {"type": "line", "strokeWidth": 2, "color": "#ff0000"},
          "encoding": {}
        },
        {
          "data": {"name": "waves"},
          "mark": {"type": "text", "fontWeight": "bold", "fontSize": 13, "align": "center", "baseline": "middle"},
          "encoding": {
            "text": {"field": "label"},
            "color": {"field": "g", "type": "nominal", "scale": {"domain": ["black", "blue", "red", "maroon", "green", "silver", "pink", "cyan", "navy"], "range": ["#000000", "#0000ff", "#ff0000", "#800000", "#008000", "#c0c0c0", "#ff80ff", "#00ffff", "#0000e0"]}, "legend": null}
          }
        },
        {
          "data": {"name": "fibLabels"},
          "mark": {"type": "text", "fontWeight": "bold", "fontSize": 13, "align": "left", "baseline": "middle", "clip": true},
          "encoding": {
            "text": {"field": "label"},
            "color": {"field": "g", "type": "nominal", "scale": {"domain": ["black", "blue", "red", "maroon", "green", "silver", "pink", "cyan", "navy"], "range": ["#000000", "#0000ff", "#ff0000", "#800000", "#008000", "#c0c0c0", "#ff80ff", "#00ffff", "#0000e0"]}, "legend": null}
          }
        },
        {
          "data": {"name": "circles"},
          "mark": {"type": "point", "filled": true, "size": 190, "opacity": 1},
          "encoding": {
            "color": {"field": "g", "type": "nominal", "scale": {"domain": ["black", "blue", "red", "maroon", "green", "silver", "pink", "cyan", "navy"], "range": ["#000000", "#0000ff", "#ff0000", "#800000", "#008000", "#c0c0c0", "#ff80ff", "#00ffff", "#0000e0"]}, "legend": null}
          }
        },
        {
          "data": {"name": "circles"},
          "mark": {"type": "text", "fontWeight": "bold", "fontSize": 14, "align": "center", "baseline": "middle", "color": "white"},
          "encoding": {"text": {"field": "label"}}
        },
        {
          "data": {"values": [{"t": 292, "p": 25561}]},
          "mark": {"type": "point", "shape": "cross", "size": 110, "filled": false, "stroke": "black", "strokeWidth": 1, "opacity": 1},
          "encoding": {}
        },
        {
          "data": {"values": [{"t": 309.5, "t2": 319.9, "p": 25544, "p2": 25576}]},
          "mark": {"type": "rect", "fill": "#ffffd0", "stroke": "#808080", "strokeWidth": 1},
          "encoding": {"x2": {"field": "t2"}, "y2": {"field": "p2"}}
        },
        {
          "data": {"values": [{"t": 310.5, "p": 25560, "label": "25562."}]},
          "mark": {"type": "text", "fontWeight": "bold", "fontSize": 13, "align": "left", "baseline": "middle", "color": "black"},
          "encoding": {"text": {"field": "label"}}
        },
        {
          "data": {"values": [{"t": -0.825, "t2": 319.9, "p": 26290, "p2": 26290}, {"t": -0.825, "t2": 319.9, "p": 24958, "p2": 24958}]},
          "mark": {"type": "rule", "strokeWidth": 3, "color": "#808080"},
          "encoding": {"x2": {"field": "t2"}, "y2": {"field": "p2"}}
        }
      ]
    },
    {
      "width": 1238,
      "height": 215,
      "encoding": {
        "x": {"field": "t", "type": "quantitative", "scale": {"domain": [-0.825, 308.7], "nice": false, "zero": false, "padding": 0}, "axis": {"orient": "top", "title": null, "grid": true, "values": [30, 61, 89, 120, 150, 181, 211, 242, 272], "gridColor": "#008080", "gridDash": [1, 14], "domain": false, "ticks": false, "labels": false, "minExtent": 0, "maxExtent": 0}},
        "y": {"field": "p", "type": "quantitative", "scale": {"domain": [-10.56, 108.9], "nice": false, "zero": false}, "axis": {"orient": "right", "title": null, "values": [0, 25, 50, 75, 100], "grid": true, "gridColor": "#008080", "gridDash": {"condition": {"test": "datum.value % 50 == 0", "value": [1, 3]}, "value": [1, 27]}, "domainColor": "black", "domainWidth": 1.5, "tickColor": "black", "tickSize": {"condition": {"test": "datum.value % 50 == 0", "value": 4}, "value": 2}, "labelExpr": "datum.value % 50 == 0 ? format(datum.value, '.2f') : ''", "labelFontSize": 13, "labelFontWeight": "bold", "labelColor": "black", "labelPadding": 1, "labelOverlap": false, "labelFlush": false}}
      },
      "layer": [
        {
          "data": {"values": [{"t": -0.825, "t2": 308.7, "p": 108.8, "p2": 108.8}, {"t": -0.825, "t2": 308.7, "p": 80, "p2": 80}, {"t": -0.825, "t2": 308.7, "p": 20, "p2": 20}, {"t": 292, "t2": 292, "p": -10.56, "p2": 108.9}]},
          "mark": {"type": "rule", "strokeWidth": 1, "color": "#808000"},
          "encoding": {"x2": {"field": "t2"}, "y2": {"field": "p2"}}
        },
        {
          "data": {"name": "signals"},
          "mark": {"type": "rect", "color": "#0000ff"},
          "encoding": {"x2": {"field": "t2"}, "y2": {"field": "p2"}}
        },
        {
          "data": {"values": [{"t": -0.825, "t2": 111.4, "p": -10, "p2": -10}, {"t": 132.7, "t2": 308.7, "p": -10, "p2": -10}]},
          "mark": {"type": "rule", "strokeWidth": 1.2, "color": "black"},
          "encoding": {"x2": {"field": "t2"}, "y2": {"field": "p2"}}
        },
        {
          "data": {"name": "stochBlue"},
          "mark": {"type": "line", "strokeWidth": 1, "color": "#0000ff"},
          "encoding": {}
        },
        {
          "data": {"name": "stochRed"},
          "mark": {"type": "line", "strokeWidth": 1, "color": "#ff0000"},
          "encoding": {}
        },
        {
          "data": {"values": [{"t": 308.7, "t2": 319.9, "p": 104.5, "p2": 108.9}]},
          "mark": {"type": "rect", "fill": "#ffffd0"},
          "encoding": {"x2": {"field": "t2"}, "y2": {"field": "p2"}}
        },
        {
          "data": {"values": [{"t": 311.5, "p": 106.5, "label": "109.4"}]},
          "mark": {"type": "text", "fontWeight": "bold", "fontSize": 13, "align": "left", "baseline": "middle", "color": "black"},
          "encoding": {"text": {"field": "label"}}
        }
      ]
    }
  ]
}
